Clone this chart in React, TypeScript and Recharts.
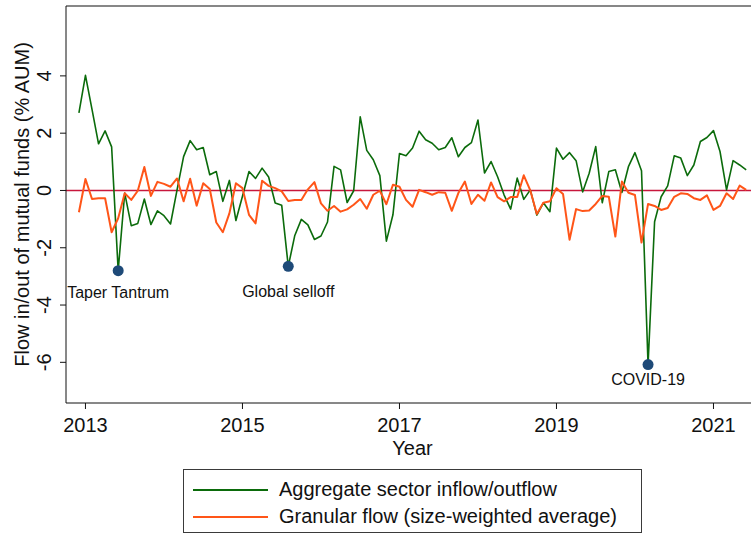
import React from "react";
import { LineChart, Line, XAxis, YAxis, ReferenceLine, ReferenceDot, Legend } from "recharts";

// monthly series, first observation December 2012
const START_YEAR = 2012;
const START_MONTH = 12;

const aggregateFlow = [
  2.71, 4.02, 2.83, 1.63, 2.08, 1.52, -2.8, -0.09, -1.23, -1.15, -0.3, -1.19, -0.71,
  -0.88, -1.17, 0.02, 1.18, 1.74, 1.42, 1.5, 0.55, 0.66, -0.38, 0.35, -1.05,
  -0.2, 0.66, 0.42, 0.78, 0.47, -0.44, -0.52, -2.65, -1.57, -1.01, -1.2, -1.71,
  -1.59, -1.1, 0.84, 0.72, -0.42, -0.01, 2.57, 1.4, 1.07, 0.52, -1.77, -0.85,
  1.29, 1.21, 1.48, 2.07, 1.77, 1.65, 1.42, 1.5, 1.84, 1.18, 1.5, 1.67,
  2.46, 0.61, 1.01, 0.48, -0.16, -0.65, 0.43, -0.31, 0.02, -0.86, -0.43, -0.74,
  1.48, 1.09, 1.32, 1.04, -0.05, 0.6, 1.53, -0.43, 0.66, 0.72, -0.07, 0.83,
  1.32, 0.69, -6.08, -1.09, -0.22, 0.16, 1.21, 1.13, 0.52, 0.89, 1.71, 1.85,
  2.09, 1.36, 0.02, 1.04, 0.89, 0.72,
];

const granularFlow = [
  -0.76, 0.4, -0.3, -0.27, -0.27, -1.46, -0.97, -0.1, -0.33, -0.01, 0.82, -0.19, 0.3,
  0.23, 0.13, 0.42, -0.38, 0.41, -0.53, 0.25, 0.05, -1.12, -1.46, -0.8, 0.25,
  0.08, -0.85, -1.15, 0.34, 0.16, 0.08, -0.03, -0.37, -0.33, -0.33, 0.04, 0.29,
  -0.45, -0.71, -0.54, -0.74, -0.66, -0.5, -0.3, -0.64, -0.15, -0.01, -0.48, 0.2,
  0.13, -0.33, -0.57, 0.02, -0.06, -0.15, -0.06, -0.08, -0.71, -0.09, 0.31, -0.47,
  -0.15, -0.36, 0.28, -0.23, -0.38, -0.23, -0.23, 0.53, 0.0, -0.82, -0.43, -0.38,
  0.08, -0.12, -1.72, -0.65, -0.72, -0.7, -0.47, -0.19, -0.22, -1.61, 0.31, -0.08,
  -0.16, -1.82, -0.47, -0.54, -0.68, -0.61, -0.22, -0.1, -0.12, -0.27, -0.33, -0.17,
  -0.68, -0.54, -0.1, -0.3, 0.17, 0.02,
];

const yearTicks = [2013, 2015, 2017, 2019, 2021];
const flowTicks = [-6, -4, -2, 0, 2, 4];

// index into the monthly series
const events = [
  { name: "Taper Tantrum", index: 6 },
  { name: "Global selloff", index: 32 },
  { name: "COVID-19", index: 87 },
];

const X_MIN = 2012.752;
const X_MAX = 2021.58;
const Y_MIN = -7.42;
const Y_MAX = 6.44;

const FONT = "'Liberation Sans', Arial, Helvetica, sans-serif";
const GREEN = "#0b6b0b";
const ORANGE = "#ff5518";
const ZERO_RED = "#c8173c";
const DOT = "#1e4a78";

const data = aggregateFlow.map((v, i) => ({
  t: START_YEAR + (START_MONTH - 1 + i) / 12,
  aggregate: v,
  granular: granularFlow[i],
}));

const labelGap: Record<string, number> = {
  "Taper Tantrum": 27,
  "Global selloff": 31,
  "COVID-19": 20,
};

const YTick = (props: any) => {
  const cx = props.x - 14;
  const cy = props.y;
  return (
    <text
      x={cx}
      y={cy}
      dy="0.36em"
      transform={`rotate(-90 ${cx} ${cy})`}
      textAnchor="middle"
      fontSize={20}
      fontFamily={FONT}
      fill="#111"
    >
      {props.payload.value}
    </text>
  );
};

const renderLegend = () => (
  <div
    style={{
      boxSizing: "border-box",
      width: "100%",
      height: "100%",
      border: "1px solid #3a3a3a",
      paddingTop: 6,
      fontFamily: FONT,
      fontSize: 20,
      color: "#111",
      background: "#fff",
    }}
  >
    {[
      { label: "Aggregate sector inflow/outflow", color: GREEN },
      { label: "Granular flow (size-weighted average)", color: ORANGE },
    ].map((row) => (
      <div key={row.label} style={{ display: "flex", alignItems: "center", height: 27 }}>
        <div style={{ width: 75, height: 2, background: row.color, marginLeft: 9, marginRight: 11 }} />
        <span>{row.label}</span>
      </div>
    ))}
  </div>
);

export default function App() {
  return (
    <div
      style={{
        position: "fixed",
        left: 0,
        top: 0,
        width: 751,
        height: 535,
        overflow: "hidden",
        background: "#fff",
      }}
    >
      <LineChart width={759} height={535} data={data} margin={{ top: 6, right: 0, bottom: 0, left: 0 }}>
        <XAxis
          dataKey="t"
          type="number"
          domain={[X_MIN, X_MAX]}
          ticks={yearTicks}
          allowDataOverflow
          height={132}
          tickSize={6}
          tickMargin={9}
          stroke="#111"
          tick={{ fontSize: 20, fontFamily: FONT, fill: "#111" }}
          label={({ viewBox }: any) => (
            <text
              x={viewBox.x + viewBox.width / 2}
              y={455}
              textAnchor="middle"
              fontSize={20}
              fontFamily={FONT}
              fill="#111"
            >
              Year
            </text>
          )}
        />
        <YAxis
          type="number"
          domain={[Y_MIN, Y_MAX]}
          ticks={flowTicks}
          allowDataOverflow
          width={66}
          tickSize={6}
          stroke="#111"
          tick={<YTick />}
          label={({ viewBox }: any) => {
            const cx = 22;
            const cy = viewBox.y + viewBox.height / 2;
            return (
              <text
                x={cx}
                y={cy}
                dy="0.36em"
                transform={`rotate(-90 ${cx} ${cy})`}
                textAnchor="middle"
                fontSize={20}
                fontFamily={FONT}
                fill="#111"
              >
                Flow in/out of mutual funds (% AUM)
              </text>
            );
          }}
        />
        <ReferenceLine y={Y_MAX} stroke="#111" strokeWidth={1.2} />
        <ReferenceLine y={0} stroke={ZERO_RED} strokeWidth={1.6} />
        <Line
          dataKey="aggregate"
          stroke={GREEN}
          strokeWidth={1.6}
          dot={false}
          isAnimationActive={false}
          strokeLinejoin="round"
        />
        <Line
          dataKey="granular"
          stroke={ORANGE}
          strokeWidth={2}
          dot={false}
          isAnimationActive={false}
          strokeLinejoin="round"
        />
        {events.map((ev) => (
          <ReferenceDot
            key={ev.name}
            x={data[ev.index].t}
            y={data[ev.index].aggregate}
            r={5.5}
            fill={DOT}
            stroke="none"
            label={({ viewBox }: any) => {
              const cx = viewBox.x + viewBox.width / 2;
              const cy = viewBox.y + viewBox.height / 2;
              return (
                <text
                  x={cx}
                  y={cy + labelGap[ev.name]}
                  textAnchor="middle"
                  fontSize={16}
                  fontFamily={FONT}
                  fill="#111"
                >
                  {ev.name}
                </text>
              );
            }}
          />
        ))}
        <Legend
          layout="horizontal"
          verticalAlign="middle"
          align="center"
          content={renderLegend}
          wrapperStyle={{ left: 183, top: 469, width: 459, height: 64 }}
        />
      </LineChart>
    </div>
  );
}
